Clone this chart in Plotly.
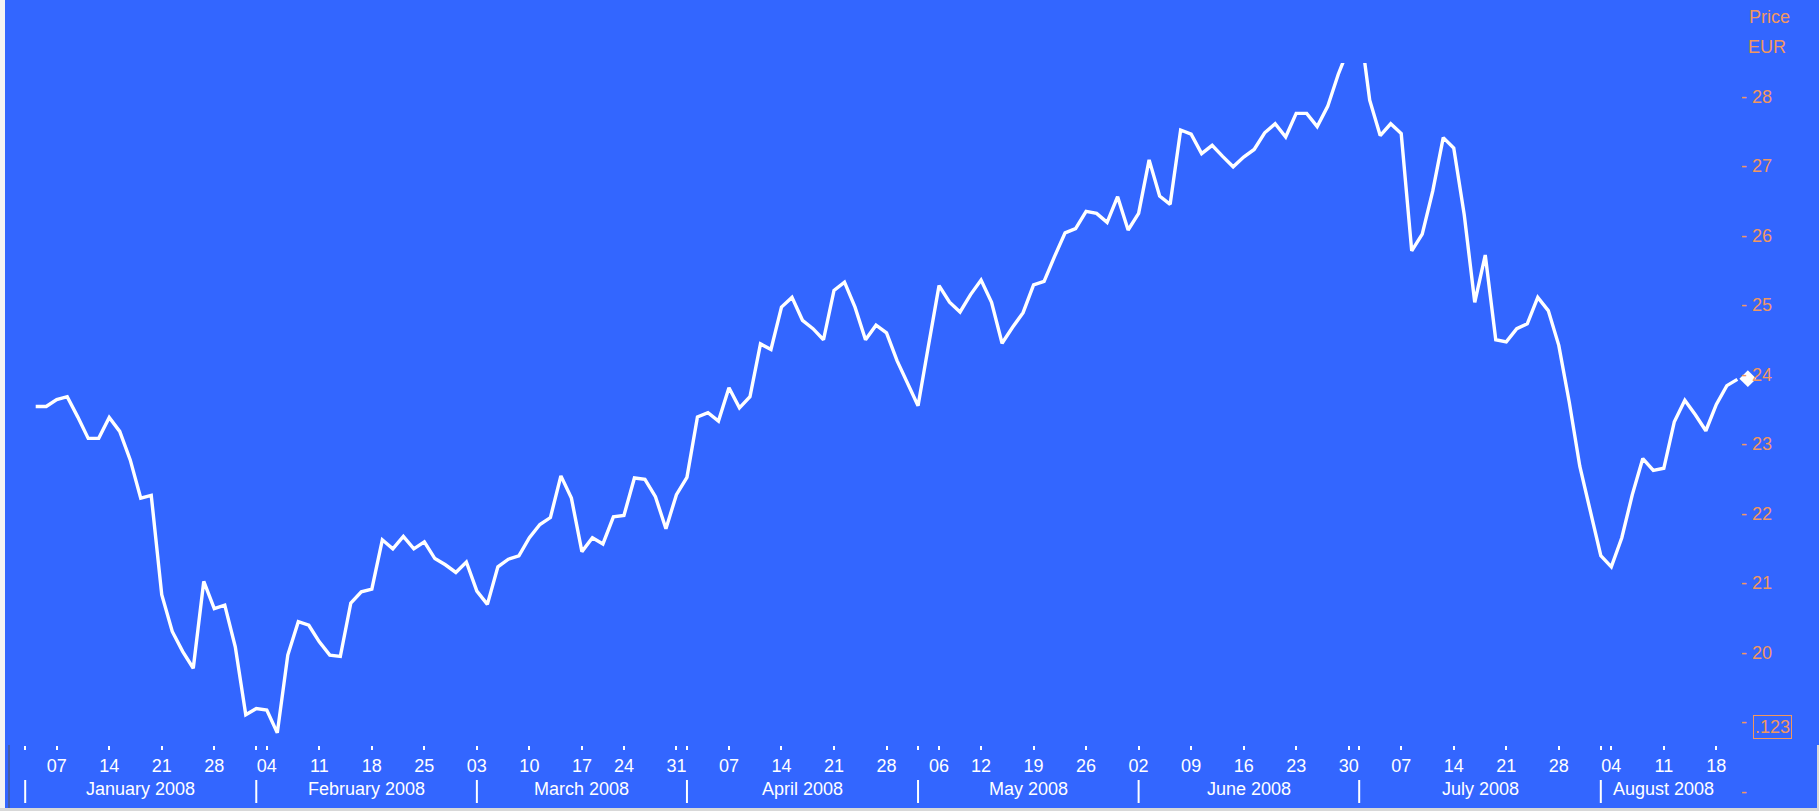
import plotly.graph_objects as go
import pandas as pd

# ---------------- data ----------------
HOLIDAYS = ["2008-01-01", "2008-03-21", "2008-05-05"]
CAL_START = "2008-01-02"
CAL_END = "2008-08-21"

# daily closing prices (EUR), one list per month (trading days)
jan_prices = [23.54, 23.54, 23.64, 23.68, 23.39, 23.08, 23.08, 23.38, 23.18, 22.77,
              22.22, 22.26, 20.83, 20.30, 20.01, 19.77, 21.02, 20.63, 20.68, 20.08, 19.10]
feb_prices = [19.19, 19.17, 18.84, 19.96, 20.44, 20.39, 20.15, 19.96, 19.94, 20.71,
              20.87, 20.91, 21.62, 21.49, 21.67, 21.49, 21.59, 21.35, 21.26, 21.15, 21.30]
mar_prices = [20.88, 20.69, 21.23, 21.34, 21.39, 21.65, 21.84, 21.94, 22.54, 22.22,
              21.45, 21.65, 21.56, 21.95, 21.97, 22.51, 22.49, 22.24, 21.78, 22.27]
apr_prices = [22.52, 23.39, 23.45, 23.33, 23.81, 23.52, 23.68, 24.44, 24.36, 24.97,
              25.11, 24.78, 24.66, 24.50, 25.21, 25.33, 24.97, 24.50, 24.71, 24.60,
              24.20, 23.88]
may_prices = [23.55, 24.42, 25.28, 25.04, 24.90, 25.15, 25.36, 25.04, 24.45, 24.68,
              24.89, 25.29, 25.34, 25.70, 26.04, 26.10, 26.35, 26.32, 26.19, 26.56, 26.08]
jun_prices = [26.32, 27.09, 26.57, 26.45, 27.52, 27.46, 27.18, 27.30, 27.14, 26.99,
              27.13, 27.24, 27.48, 27.61, 27.42, 27.76, 27.76, 27.57, 27.86, 28.32, 28.70]
jul_prices = [29.10, 27.95, 27.44, 27.61, 27.47, 25.78, 26.02, 26.64, 27.41, 27.26,
              26.30, 25.04, 25.72, 24.50, 24.47, 24.66, 24.73, 25.11, 24.92, 24.42,
              23.60, 22.68, 22.04]
aug_prices = [21.39, 21.23, 21.65, 22.27, 22.79, 22.62, 22.65, 23.32, 23.63, 23.42,
              23.19, 23.57, 23.84, 23.93]
last_price = 23.94          # latest quote (diamond)

y_tickvals = [18, 19, 20, 21, 22, 23, 24, 25, 26, 27, 28]
y_ticktext = ["-", "- ", "- 20", "- 21", "- 22", "- 23", "- 24", "- 25", "- 26", "- 27", "- 28"]
unit_labels = ["Price", "EUR"]
value_box_text = ".123"

# ---------------- derived calendar ----------------
calendar = pd.bdate_range(CAL_START, CAL_END, freq="C", holidays=HOLIDAYS)
cal = [d.strftime("%Y-%m-%d") for d in calendar]
prices = jan_prices + feb_prices + mar_prices + apr_prices + may_prices + jun_prices + jul_prices + aug_prices
price_dates = cal[1:-1]
assert len(price_dates) == len(prices), (len(price_dates), len(prices))
last_date = cal[-1]

week_starts = [i for i in range(1, len(calendar))
               if calendar[i].isocalendar()[1] != calendar[i - 1].isocalendar()[1]]
month_starts = [i for i in range(len(calendar))
                if i == 0 or calendar[i].month != calendar[i - 1].month]
tick_idx = sorted(set(week_starts) | set(month_starts))
tickvals = [cal[i] for i in tick_idx]
ticktext = [calendar[i].strftime("%d") if i in week_starts else "" for i in tick_idx]

# ---------------- styling ----------------
BLUE = "#3366FF"
ORANGE = "#F2975F"
FONT = "Liberation Sans, Arial, sans-serif"
W, H = 1819, 811
L_PX, R_PX, T_PX = 10, 1756, 63
YAXIS_PX = 1740
PX0, STEP = 35.7, 10.504          # pixel of first price point, px per trading day


def px_to_idx(px):
    return 1 + (px - PX0) / STEP


def py_to_paper(py):
    return (H - py) / (H - T_PX)


def px_to_paper(px):
    return (px - L_PX) / (R_PX - L_PX)


fig = go.Figure()
fig.add_trace(go.Scatter(x=price_dates, y=prices, mode="lines",
                         line=dict(color="white", width=3.4), hoverinfo="x+y"))
fig.add_trace(go.Scatter(x=[last_date], y=[last_price], mode="markers",
                         marker=dict(symbol="diamond", size=13, color="white"),
                         cliponaxis=False))

annotations = []
for k, m in enumerate(month_starts):
    # last (partial) month: label centred on the visible part of the month
    end = month_starts[k + 1] if k + 1 < len(month_starts) else len(cal) - 3
    annotations.append(dict(x=(m + end) / 2, y=py_to_paper(789), xref="x", yref="paper",
                            text=calendar[m].strftime("%B %Y"), showarrow=False,
                            font=dict(color="white", size=18, family=FONT),
                            xanchor="center", yanchor="middle"))
annotations.append(dict(x=px_to_paper(1769), y=py_to_paper(17), xref="paper", yref="paper",
                        text=unit_labels[0], showarrow=False,
                        font=dict(color=ORANGE, size=18, family=FONT),
                        xanchor="center", yanchor="middle"))
annotations.append(dict(x=px_to_paper(1767), y=py_to_paper(47), xref="paper", yref="paper",
                        text=unit_labels[1], showarrow=False,
                        font=dict(color=ORANGE, size=18, family=FONT),
                        xanchor="center", yanchor="middle"))
annotations.append(dict(x=px_to_paper(1753), y=py_to_paper(727), xref="paper", yref="paper",
                        text=value_box_text, showarrow=False,
                        font=dict(color=ORANGE, size=18, family=FONT),
                        xanchor="left", yanchor="middle",
                        bordercolor=ORANGE, borderwidth=1, borderpad=1))

shapes = []
for m in month_starts:
    shapes.append(dict(type="line", xref="x", yref="paper", x0=m, x1=m,
                       y0=py_to_paper(780), y1=py_to_paper(803),
                       line=dict(color="white", width=2)))
# window edges of the original screenshot
shapes.append(dict(type="rect", xref="paper", yref="paper",
                   x0=px_to_paper(0), x1=px_to_paper(5), y0=0, y1=py_to_paper(0),
                   fillcolor="#F4F4F4", line=dict(width=0), layer="above"))
shapes.append(dict(type="rect", xref="paper", yref="paper",
                   x0=px_to_paper(0), x1=px_to_paper(W), y0=0, y1=py_to_paper(808),
                   fillcolor="#D8D8D8", line=dict(width=0), layer="above"))
shapes.append(dict(type="rect", xref="paper", yref="paper",
                   x0=px_to_paper(1817), x1=px_to_paper(W), y0=0, y1=py_to_paper(745),
                   fillcolor="#D8D8D8", line=dict(width=0), layer="above"))
shapes.append(dict(type="line", xref="paper", yref="paper",
                   x0=px_to_paper(9), x1=px_to_paper(9), y0=py_to_paper(808), y1=py_to_paper(745),
                   line=dict(color="#555555", width=1)))

fig.update_layout(
    width=W, height=H,
    margin=dict(l=L_PX, r=W - R_PX, t=T_PX, b=0, pad=0),
    paper_bgcolor=BLUE, plot_bgcolor=BLUE,
    showlegend=False,
    xaxis=dict(type="category", categoryorder="array", categoryarray=cal,
               range=[px_to_idx(L_PX), px_to_idx(R_PX)],
               anchor="free", position=py_to_paper(745),
               ticks="outside", ticklen=4, tickwidth=1.5, tickcolor="white",
               tickvals=tickvals, ticktext=ticktext, tickangle=0,
               tickfont=dict(color="white", size=18, family=FONT),
               showgrid=False, zeroline=False, showline=False),
    yaxis=dict(side="right", range=[17.715, 28.485], domain=[0, 1],
               anchor="free", position=px_to_paper(YAXIS_PX),
               tickvals=y_tickvals, ticktext=y_ticktext, ticks="",
               tickfont=dict(color=ORANGE, size=18, family=FONT),
               showgrid=False, zeroline=False, showline=False),
    annotations=annotations,
    shapes=shapes,
)

fig.write_html("out.html", config={"displayModeBar": False},
               post_script="document.body.style.margin='0';")
